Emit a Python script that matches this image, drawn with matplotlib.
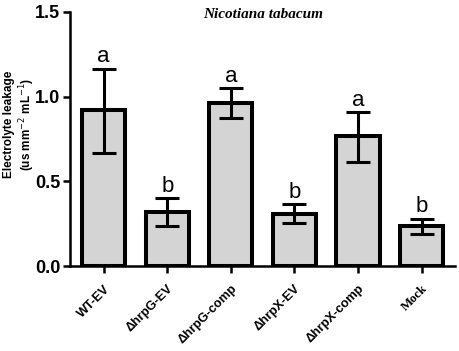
import matplotlib
matplotlib.use("Agg")
import matplotlib.pyplot as plt
import numpy as np

categories = ["WT-EV", "ΔhrpG-EV", "ΔhrpG-comp", "ΔhrpX-EV", "ΔhrpX-comp", "Mock"]
means = [0.92, 0.32, 0.965, 0.31, 0.765, 0.235]
err_upper = [1.165, 0.40, 1.05, 0.365, 0.91, 0.28]
err_lower = [0.665, 0.235, 0.875, 0.255, 0.615, 0.19]
letters = ["a", "b", "a", "b", "a", "b"]
yticks = [0.0, 0.5, 1.0, 1.5]

fig = plt.figure(figsize=(4.59, 3.51), dpi=100)
ax = fig.add_axes([0.1525, 0.242, 0.838, 0.724])
x = np.arange(len(categories))
means_a = np.array(means)
yerr = np.array([means_a - np.array(err_lower), np.array(err_upper) - means_a])
ax.bar(x, means, width=0.68, color="#d4d4d4", edgecolor="black", linewidth=2.9, zorder=2)
ax.errorbar(x, means, yerr=yerr, fmt="none", ecolor="black", elinewidth=2.2,
            capsize=8.3, capthick=2.2, zorder=3)
for xi, up, lt in zip(x, err_upper, letters):
    ax.text(xi, up + 0.008, lt, ha="center", va="bottom", fontsize=16,
            family="Liberation Sans")

ax.set_xlim(-0.53, 5.52)
ax.set_ylim(0, 1.5)
ax.set_yticks(yticks)
ax.set_yticklabels([f"{v:.1f}" for v in yticks], fontsize=13, fontweight="bold",
                   family="Liberation Sans")
ax.set_xticks(x)
ax.set_xticklabels(categories, rotation=45, ha="right", rotation_mode="anchor",
                   fontsize=9.2, fontweight="bold", family="Liberation Sans")
lbls = ax.get_xticklabels()
lbls[-1].set_family("Liberation Serif")
for s in ["top", "right"]:
    ax.spines[s].set_visible(False)
for s in ["left", "bottom"]:
    ax.spines[s].set_linewidth(1.8)
ax.tick_params(axis="both", width=1.8, length=5, direction="out", pad=2)
ax.tick_params(axis="x", pad=7)
fig.text(20 / 459, 1 - 124 / 351, "Electrolyte leakage\n(us mm$^{-2}$ mL$^{-1}$)",
         rotation=90, ha="center", va="center", multialignment="center",
         fontsize=8.5, fontweight="bold", family="Liberation Sans", linespacing=1.15)
fig.text(263 / 459, 1 - 15 / 351, "Nicotiana tabacum", ha="center", va="center",
         fontsize=11, fontstyle="italic", fontweight="bold", family="Liberation Serif")
fig.savefig("out.png", dpi=100)
